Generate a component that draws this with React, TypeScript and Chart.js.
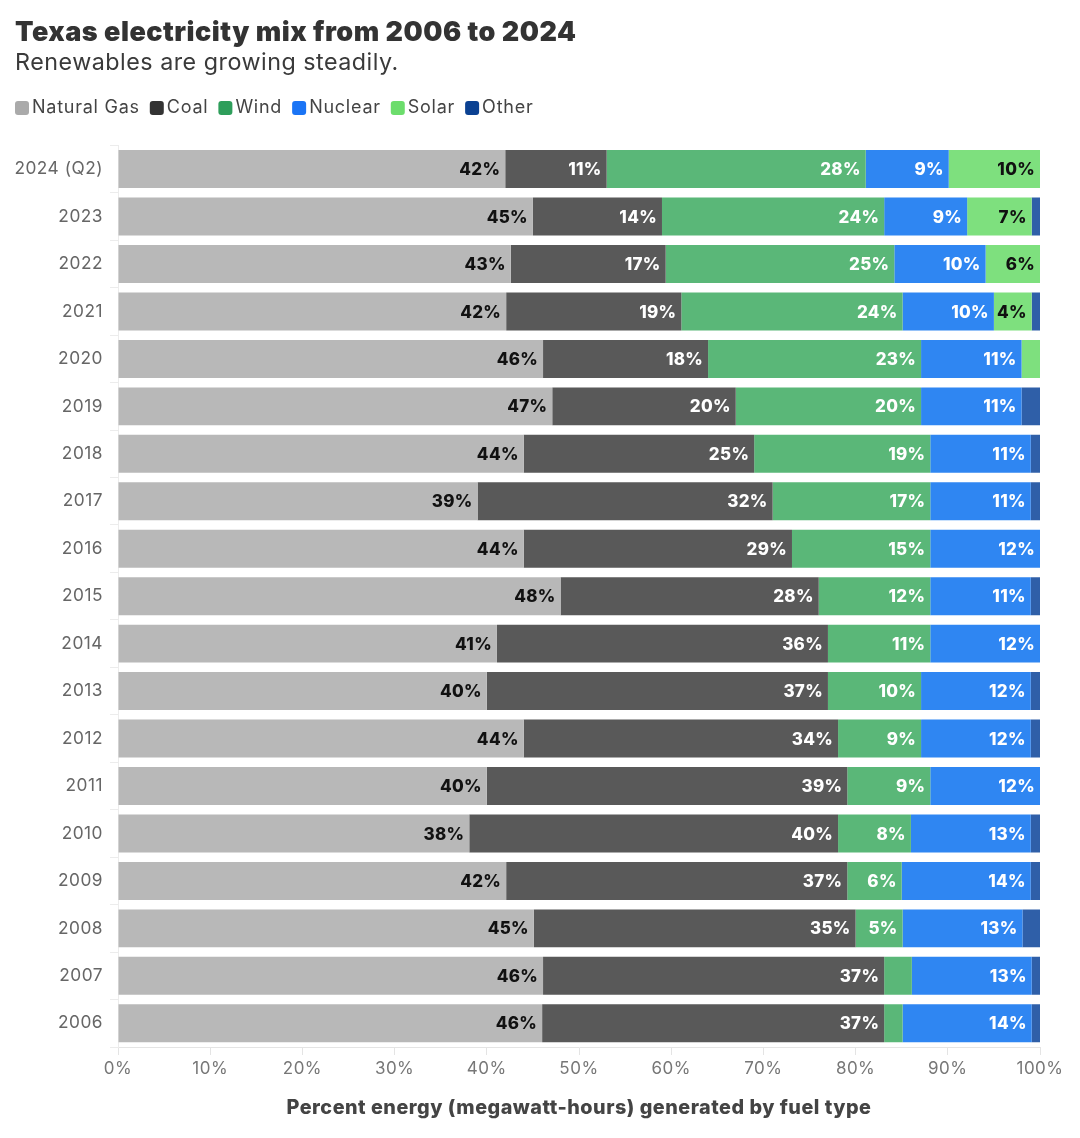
import React, { useEffect, useRef } from 'react';
import { Chart, registerables } from 'chart.js';

Chart.register(...registerables);

const categories = ['2024 (Q2)', '2023', '2022', '2021', '2020', '2019', '2018', '2017', '2016', '2015', '2014', '2013', '2012', '2011', '2010', '2009', '2008', '2007', '2006'];
const naturalGas = [42.0, 45.0, 42.6, 42.1, 46.1, 47.1, 44.0, 39.0, 44.0, 48.0, 41.1, 40.0, 44.0, 40.0, 38.1, 42.1, 45.1, 46.1, 46.0];
const coal = [11.0, 14.0, 16.8, 19.0, 17.9, 19.9, 25.0, 32.0, 29.1, 28.0, 35.9, 37.0, 34.1, 39.1, 40.0, 37.0, 34.9, 37.0, 37.1];
const wind = [28.1, 24.1, 24.8, 24.0, 23.1, 20.1, 19.1, 17.1, 15.0, 12.1, 11.1, 10.1, 9.0, 9.0, 7.9, 5.9, 5.1, 3.0, 2.0];
const nuclear = [9.0, 9.0, 9.9, 9.9, 10.9, 10.9, 10.9, 10.9, 11.9, 10.9, 11.9, 11.9, 11.9, 11.9, 13.0, 14.0, 13.0, 13.0, 14.0];
const solar = [9.9, 7.0, 5.9, 4.1, 2.0, 0.0, 0.0, 0.0, 0.0, 0.0, 0.0, 0.0, 0.0, 0.0, 0.0, 0.0, 0.0, 0.0, 0.0];
const other = [0.0, 0.9, 0.0, 0.9, 0.0, 2.0, 1.0, 1.0, 0.0, 1.0, 0.0, 1.0, 1.0, 0.0, 1.0, 1.0, 1.9, 0.9, 0.9];
const seriesNames = ['Natural Gas', 'Coal', 'Wind', 'Nuclear', 'Solar', 'Other'];
const xTickValues = [0, 10, 20, 30, 40, 50, 60, 70, 80, 90, 100];

const titleText = 'Texas electricity mix from 2006 to 2024';
const subtitleText = 'Renewables are growing steadily.';
const xTitleText = 'Percent energy (megawatt-hours) generated by fuel type';

const FONT = 'Inter, "Noto Sans", sans-serif';
const barColors = ['#b8b8b8', '#595959', '#5ab778', '#2f86f2', '#7ee07e', '#2f5fa8'];
const legendColors = ['#aaaaaa', '#333333', '#2e9e5b', '#1a74f5', '#6cdd6c', '#0b4192'];
const labelColors = ['#111111', '#ffffff', '#ffffff', '#ffffff', '#111111', '#ffffff'];

const spacingPlugin = {
  id: 'letterSpacing',
  beforeDraw(chart: any) {
    (chart.ctx as any).letterSpacing = '0.5px';
  },
};

const legendPlugin = {
  id: 'customLegend',
  afterDraw(chart: any) {
    const ctx = chart.ctx;
    ctx.save();
    (ctx as any).letterSpacing = '0.75px';
    ctx.font = `400 18px ${FONT}`;
    ctx.textBaseline = 'middle';
    ctx.textAlign = 'left';
    let x = 15;
    const cy = 108;
    seriesNames.forEach((name, i) => {
      ctx.fillStyle = legendColors[i];
      ctx.beginPath();
      (ctx as any).roundRect(x, cy - 7, 14, 14, 3);
      ctx.fill();
      ctx.fillStyle = '#444444';
      ctx.fillText(name, x + 17, cy);
      x += 17 + ctx.measureText(name).width + 10;
    });
    ctx.restore();
  },
};

const valueLabelPlugin = {
  id: 'valueLabels',
  afterDatasetsDraw(chart: any) {
    const ctx = chart.ctx;
    ctx.save();
    (ctx as any).letterSpacing = '0.3px';
    ctx.font = `800 17px ${FONT}`;
    ctx.textAlign = 'right';
    ctx.textBaseline = 'middle';
    chart.data.datasets.forEach((ds: any, di: number) => {
      const meta = chart.getDatasetMeta(di);
      meta.data.forEach((bar: any, i: number) => {
        const v = Math.round(ds.data[i]);
        if (v < 4) return;
        ctx.fillStyle = labelColors[di];
        ctx.fillText(`${v}%`, bar.x - 5, bar.y + 1);
      });
    });
    ctx.restore();
  },
};

export default function App() {
  const ref = useRef<HTMLCanvasElement>(null);
  useEffect(() => {
    document.body.style.margin = '0';
    const seriesData = [naturalGas, coal, wind, nuclear, solar, other];
    const chart = new Chart(ref.current as HTMLCanvasElement, {
      type: 'bar',
      data: {
        labels: categories,
        datasets: seriesNames.map((name, i) => ({
          label: name,
          data: seriesData[i],
          backgroundColor: barColors[i],
          borderWidth: 0,
          barPercentage: 0.8,
          categoryPercentage: 1,
        })),
      },
      options: {
        indexAxis: 'y',
        animation: false,
        responsive: false,
        devicePixelRatio: 1,
        layout: { padding: { left: 15, right: 40, top: 0, bottom: 0 } },
        scales: {
          x: {
            stacked: true,
            min: 0,
            max: 100,
            afterBuildTicks: (s: any) => {
              s.ticks = xTickValues.map((v) => ({ value: v }));
            },
            afterFit: (s: any) => {
              s.height = 91;
            },
            ticks: {
              callback: (v: any) => `${v}%`,
              font: { family: FONT, size: 17 },
              color: '#777777',
              padding: 4,
              maxRotation: 0,
            },
            grid: { drawOnChartArea: false, drawTicks: true, tickLength: 8, color: '#e4e4e4' },
            border: { display: true, color: '#e4e4e4' },
            title: {
              display: true,
              text: xTitleText,
              font: { family: FONT, size: 19.8, weight: 800 },
              color: '#444444',
              padding: { top: 0, bottom: 18 },
            },
          },
          y: {
            stacked: true,
            afterFit: (s: any) => {
              s.width = 103;
            },
            ticks: {
              font: { family: FONT, size: 17.3 },
              color: '#666666',
              padding: 7,
            },
            grid: { drawOnChartArea: false, drawTicks: true, tickLength: 8, color: '#ececec' },
            border: { display: true, color: '#ececec' },
          },
        },
        plugins: {
          legend: { display: false },
          tooltip: { enabled: false },
          title: {
            display: true,
            text: titleText,
            align: 'start',
            font: { family: FONT, size: 27, weight: 900 },
            color: '#333333',
            padding: { top: 17, bottom: 0 },
          },
          subtitle: {
            display: true,
            text: subtitleText,
            align: 'start',
            font: { family: FONT, size: 23.3, weight: 400 },
            color: '#3a3a3a',
            padding: { top: 0, bottom: 68 },
          },
        },
      },
      plugins: [spacingPlugin, legendPlugin, valueLabelPlugin],
    } as any);
    return () => chart.destroy();
  }, []);
  return (
    <div style={{ width: 1080, height: 1138, background: '#ffffff' }}>
      <canvas ref={ref} width={1080} height={1138} style={{ display: 'block' }} />
    </div>
  );
}
